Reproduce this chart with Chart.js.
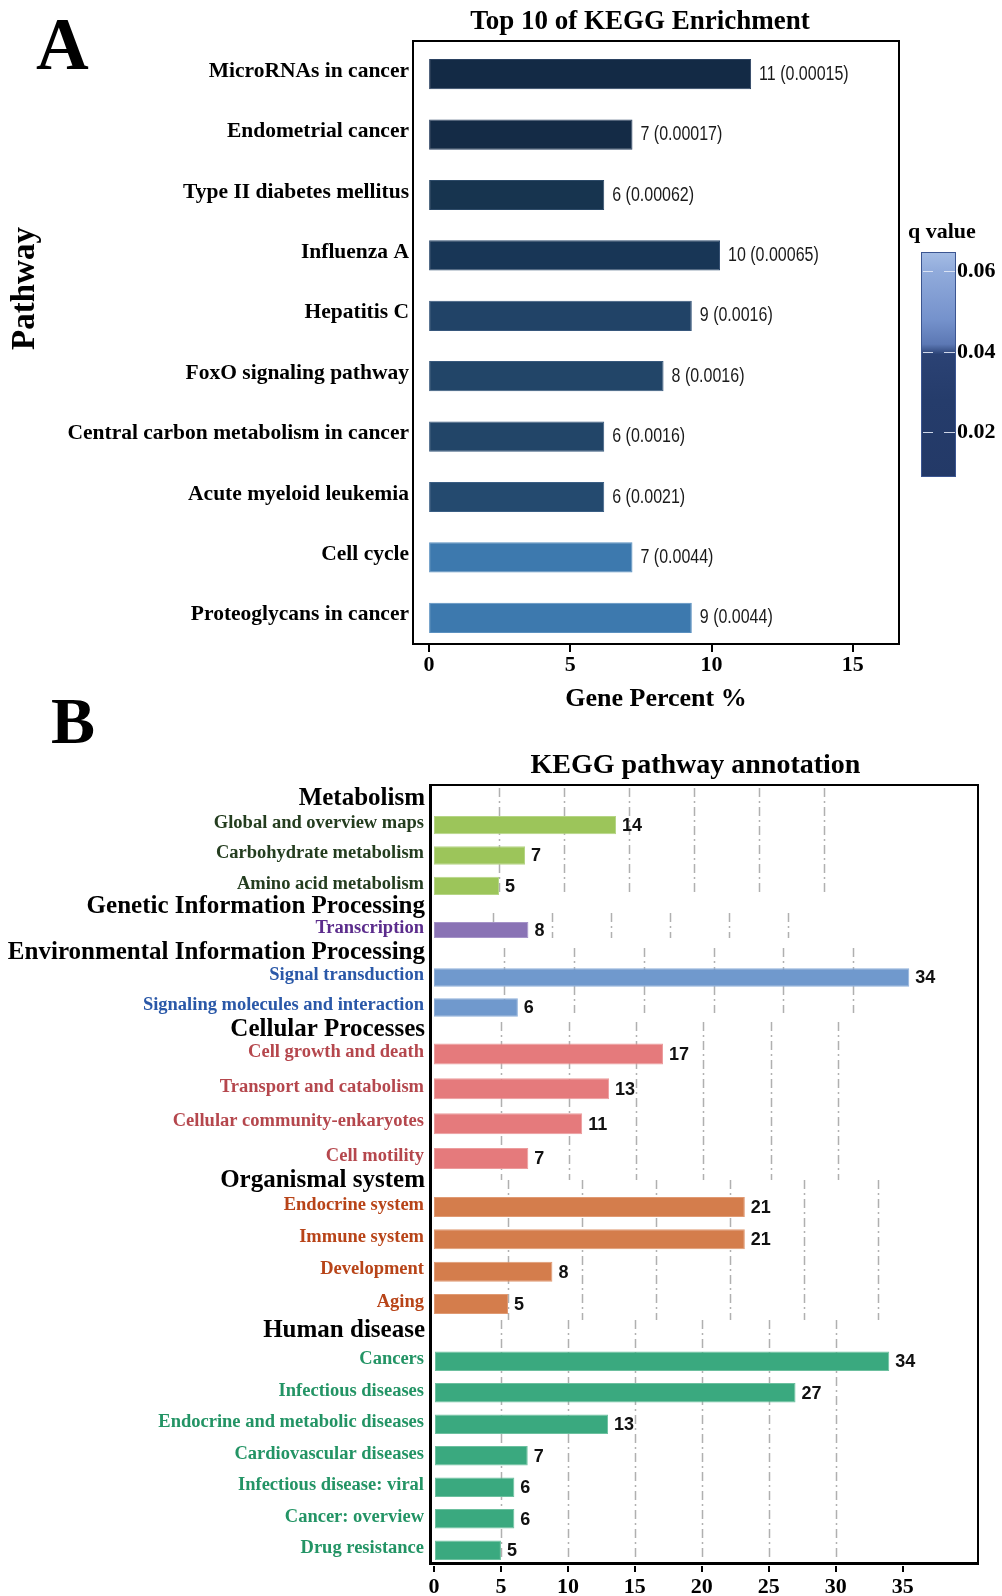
<!DOCTYPE html>
<html>
<head>
<meta charset="utf-8">
<title>KEGG enrichment and KEGG pathway annotation</title>
<script src="https://cdn.jsdelivr.net/npm/chart.js@4.4.1/dist/chart.umd.min.js"></script>
<style>
html,body{margin:0;padding:0;background:#fff;}
#page{position:relative;width:1002px;height:1596px;overflow:hidden;background:#fff;}
#page canvas{position:absolute;left:0;top:0;}
.frame{position:absolute;box-sizing:border-box;border:2px solid #000;pointer-events:none;}
</style>
</head>
<body>
<div id="page">
  <canvas id="chartA" width="1002" height="1596"></canvas>
  <canvas id="chartB0" width="1002" height="1596"></canvas>
  <canvas id="chartB1" width="1002" height="1596"></canvas>
  <canvas id="chartB2" width="1002" height="1596"></canvas>
  <canvas id="chartB3" width="1002" height="1596"></canvas>
  <canvas id="chartB4" width="1002" height="1596"></canvas>
  <canvas id="chartB5" width="1002" height="1596"></canvas>
  <div class="frame" style="left:412px;top:40px;width:488px;height:605px;"></div>
  <div class="frame" style="left:429px;top:784px;width:550px;height:781px;border-left-width:3px;border-bottom-width:3px;"></div>
</div>
<script>
// ================= DATA =================
// Panel A: Top 10 of KEGG Enrichment
const pathwayLabels = [
  'MicroRNAs in cancer', 'Endometrial cancer', 'Type II diabetes mellitus', 'Influenza A',
  'Hepatitis C', 'FoxO signaling pathway', 'Central carbon metabolism in cancer',
  'Acute myeloid leukemia', 'Cell cycle', 'Proteoglycans in cancer'
];
const genePercent = [11.4, 7.2, 6.2, 10.3, 9.3, 8.3, 6.2, 6.2, 7.2, 9.3];
const geneCounts = [11, 7, 6, 10, 9, 8, 6, 6, 7, 9];
const qValueText = ['0.00015', '0.00017', '0.00062', '0.00065', '0.0016', '0.0016', '0.0016', '0.0021', '0.0044', '0.0044'];
const percentTicks = [0, 5, 10, 15];
const qLegendTicks = [0.02, 0.04, 0.06];
const qLegendRange = [0.0089, 0.0647];

// Panel B: KEGG pathway annotation
const groupNames = ['Metabolism', 'Genetic Information Processing', 'Environmental Information Processing',
  'Cellular Processes', 'Organismal system', 'Human disease'];
const metabolismLabels = ['Global and overview maps', 'Carbohydrate metabolism', 'Amino acid metabolism'];
const metabolismCounts = [14, 7, 5];
const geneticLabels = ['Transcription'];
const geneticCounts = [8];
const environmentalLabels = ['Signal transduction', 'Signaling molecules and interaction'];
const environmentalCounts = [34, 6];
const cellularLabels = ['Cell growth and death', 'Transport and catabolism', 'Cellular community-enkaryotes', 'Cell motility'];
const cellularCounts = [17, 13, 11, 7];
const organismalLabels = ['Endocrine system', 'Immune system', 'Development', 'Aging'];
const organismalCounts = [21, 21, 8, 5];
const humanLabels = ['Cancers', 'Infectious diseases', 'Endocrine and metabolic diseases', 'Cardiovascular diseases',
  'Infectious disease: viral', 'Cancer: overview', 'Drug resistance'];
const humanCounts = [34, 27, 13, 7, 6, 6, 5];
const annotationTicks = [0, 5, 10, 15, 20, 25, 30, 35];
const annotationGrid = [5, 10, 15, 20, 25, 30];

// ================= STYLE / LAYOUT =================
const SERIF = '"Liberation Serif", "Times New Roman", serif';
const SANS = '"Liberation Sans", Arial, sans-serif';
const PAGE_W = 1002, PAGE_H = 1596;
const A_FRAME_BOTTOM = 644;
const barColorsA = ['#132a45', '#142b46', '#17344f', '#183656', '#214367', '#224568', '#224568', '#244a6f', '#3d79ae', '#3d79ae'];
const barBordersA = ['#2a4160', '#2a4160', '#2d4a68', '#2d4b6d', '#37577c', '#38597d', '#38597d', '#3a5e84', '#5a90c0', '#5a90c0'];

const groupLabels = [metabolismLabels, geneticLabels, environmentalLabels, cellularLabels, organismalLabels, humanLabels];
const groupCounts = [metabolismCounts, geneticCounts, environmentalCounts, cellularCounts, organismalCounts, humanCounts];
const B_LEFT = 434, B_RIGHT = 977.5;
const groupLayout = [
  {top: 809.8,  bottom: 901.2,  header: 804.6,  gridTop: 788,  gridBottom: 895,  max: 41.8,  bar: 0.60,  color: '#9cc55a', border: '#b5d585', text: '#243d1f'},
  {top: 917,    bottom: 943,    header: 913,    gridTop: 913,  gridBottom: 938,  max: 46.06, bar: 0.615, color: '#8a73b5', border: '#a593c8', text: '#5b2c8c'},
  {top: 962.5,  bottom: 1022.5, header: 959,    gridTop: 948,  gridBottom: 1013, max: 38.88, bar: 0.61,  color: '#7099cd', border: '#8fb0da', text: '#2a58a8'},
  {top: 1036.6, bottom: 1175.9, header: 1036,   gridTop: 1022, gridBottom: 1180, max: 40.35, bar: 0.603, color: '#e57a7c', border: '#ec9c9d', text: '#b5474d'},
  {top: 1190.8, bottom: 1320.2, header: 1186.7, gridTop: 1180, gridBottom: 1320, max: 36.72, bar: 0.62,  color: '#d47d4c', border: '#e09a73', text: '#b84418'},
  {top: 1345.5, bottom: 1566,   header: 1337.3, gridTop: 1320, gridBottom: 1560, max: 40.59, bar: 0.62,  color: '#3aa97f', border: '#6cc09f', text: '#239465', axis: true}
];

// ================= PANEL A =================
const panelAPlugin = {
  id: 'panelA',
  afterDatasetsDraw(chart) {
    const ctx = chart.ctx;
    const meta = chart.getDatasetMeta(0);
    ctx.save();
    ctx.fillStyle = '#1a1a1a';
    ctx.font = '20px ' + SANS;
    ctx.textBaseline = 'middle';
    ctx.textAlign = 'left';
    meta.data.forEach((bar, i) => {
      ctx.save();
      ctx.translate(bar.x + 8, bar.y);
      ctx.scale(0.8, 1);
      ctx.fillText(geneCounts[i] + ' (' + qValueText[i] + ')', 0, 0);
      ctx.restore();
    });
    ctx.restore();
  },
  afterDraw(chart) {
    const ctx = chart.ctx;
    ctx.save();
    // x-axis tick marks hanging below the panel frame
    const xs = chart.scales.x;
    ctx.strokeStyle = '#000';
    ctx.lineWidth = 2;
    percentTicks.forEach(v => {
      const x = Math.round(xs.getPixelForValue(v));
      ctx.beginPath();
      ctx.moveTo(x, A_FRAME_BOTTOM);
      ctx.lineTo(x, A_FRAME_BOTTOM + 8);
      ctx.stroke();
    });

    ctx.fillStyle = '#000';
    ctx.textBaseline = 'alphabetic';
    ctx.textAlign = 'left';
    ctx.font = 'bold 73px ' + SERIF;
    ctx.fillText('A', 36, 69);
    ctx.font = 'bold 66px ' + SERIF;
    ctx.fillText('B', 51, 743);
    ctx.textAlign = 'center';
    ctx.font = 'bold 27px ' + SERIF;
    ctx.fillText('Top 10 of KEGG Enrichment', 640, 29);
    ctx.font = 'bold 26px ' + SERIF;
    ctx.fillText('Gene Percent %', 656, 706);
    ctx.save();
    ctx.translate(34, 288.5);
    ctx.rotate(-Math.PI / 2);
    ctx.font = 'bold 33px ' + SERIF;
    ctx.fillText('Pathway', 0, 0);
    ctx.restore();

    // colour bar legend (q value)
    const cb = {x: 921, y: 252, w: 35, h: 225};
    const g = ctx.createLinearGradient(0, cb.y, 0, cb.y + cb.h);
    g.addColorStop(0, '#a5bde5');
    g.addColorStop(0.084, '#91abdb');
    g.addColorStop(0.30, '#7592cc');
    g.addColorStop(0.41, '#5c78b4');
    g.addColorStop(0.455, '#2b4274');
    g.addColorStop(0.66, '#253c6b');
    g.addColorStop(1, '#233967');
    ctx.fillStyle = g;
    ctx.fillRect(cb.x, cb.y, cb.w, cb.h);
    ctx.strokeStyle = '#3b5591';
    ctx.lineWidth = 1;
    ctx.strokeRect(cb.x + 0.5, cb.y + 0.5, cb.w - 1, cb.h - 1);
    const qToY = q => cb.y + cb.h - (q - qLegendRange[0]) / (qLegendRange[1] - qLegendRange[0]) * cb.h;
    ctx.font = 'bold 22px ' + SERIF;
    ctx.textAlign = 'left';
    ctx.textBaseline = 'middle';
    qLegendTicks.forEach(q => {
      const y = Math.round(qToY(q)) + 0.5;
      ctx.strokeStyle = 'rgba(225,232,246,0.9)';
      ctx.beginPath();
      ctx.moveTo(cb.x + 2, y); ctx.lineTo(cb.x + 12, y);
      ctx.moveTo(cb.x + cb.w - 12, y); ctx.lineTo(cb.x + cb.w - 1, y);
      ctx.stroke();
      ctx.fillStyle = '#000';
      ctx.fillText(q.toFixed(2), 957, y);
    });
    ctx.textBaseline = 'alphabetic';
    ctx.fillText('q value', 908, 238);
    ctx.restore();
  }
};

new Chart(document.getElementById('chartA'), {
  type: 'bar',
  data: {
    labels: pathwayLabels,
    datasets: [{
      data: genePercent,
      backgroundColor: barColorsA,
      borderColor: barBordersA,
      borderWidth: 1,
      borderSkipped: false,
      barPercentage: 0.5,
      categoryPercentage: 1
    }]
  },
  options: {
    indexAxis: 'y',
    responsive: false,
    animation: false,
    devicePixelRatio: 1,
    layout: {padding: {left: 0, top: 44, right: PAGE_W - 898, bottom: 0}},
    plugins: {legend: {display: false}, tooltip: {enabled: false}, title: {display: false}},
    scales: {
      y: {
        type: 'category',
        grid: {display: false, drawTicks: false},
        border: {display: false},
        ticks: {autoSkip: false, color: '#000', padding: 4, labelOffset: -3,
          font: {family: SERIF, weight: 'bold', size: 21.5}},
        afterFit(s) { s.width = 413; }
      },
      x: {
        type: 'linear', min: -0.57, max: 16.6,
        border: {display: false},
        grid: {display: false, drawTicks: false},
        ticks: {stepSize: 5, includeBounds: false, color: '#000', padding: 4,
          font: {family: SERIF, weight: 'bold', size: 22}},
        afterBuildTicks(s) { s.ticks = percentTicks.map(v => ({value: v})); },
        afterFit(s) { s.height = PAGE_H - 648; }
      }
    }
  },
  plugins: [panelAPlugin]
});

// ================= PANEL B =================
function groupPlugin(gi) {
  return {
    id: 'group' + gi,
    beforeDatasetsDraw(chart) {
      const L = groupLayout[gi];
      const ctx = chart.ctx;
      const xs = chart.scales.x;
      ctx.save();
      ctx.strokeStyle = '#b0b0b0';
      ctx.lineWidth = 1.5;
      ctx.setLineDash([9, 4, 2, 4]);
      annotationGrid.forEach(v => {
        const x = Math.round(xs.getPixelForValue(v)) + 0.5;
        ctx.beginPath();
        ctx.moveTo(x, L.gridTop);
        ctx.lineTo(x, L.gridBottom);
        ctx.stroke();
      });
      ctx.restore();
    },
    afterDatasetsDraw(chart) {
      const ctx = chart.ctx;
      const meta = chart.getDatasetMeta(0);
      const vals = groupCounts[gi];
      ctx.save();
      ctx.fillStyle = '#111';
      ctx.font = 'bold 18px ' + SANS;
      ctx.textBaseline = 'middle';
      ctx.textAlign = 'left';
      meta.data.forEach((bar, i) => ctx.fillText(String(vals[i]), bar.x + 6, bar.y + 1));
      ctx.restore();
    },
    afterDraw(chart) {
      const L = groupLayout[gi];
      const ctx = chart.ctx;
      ctx.save();
      ctx.fillStyle = '#000';
      ctx.textAlign = 'right';
      ctx.textBaseline = 'alphabetic';
      ctx.font = 'bold 25px ' + SERIF;
      ctx.fillText(groupNames[gi], chart.chartArea.left - 9, L.header);
      if (gi === 0) {
        ctx.textAlign = 'center';
        ctx.font = 'bold 28px ' + SERIF;
        ctx.fillText('KEGG pathway annotation', 695.5, 773);
      }
      ctx.restore();
    }
  };
}

groupLayout.forEach((L, gi) => {
  const isAxis = !!L.axis;
  const xScale = {
    type: 'linear', min: 0, max: L.max,
    display: isAxis,
    border: {display: false},
    grid: {display: true, drawOnChartArea: false, drawTicks: true, tickLength: 6, color: '#000', lineWidth: 2},
    ticks: {stepSize: 5, color: '#000', padding: 2, font: {family: SERIF, weight: 'bold', size: 22}}
  };
  if (isAxis) {
    xScale.afterBuildTicks = s => { s.ticks = annotationTicks.map(v => ({value: v})); };
    xScale.afterFit = s => { s.height = PAGE_H - L.bottom; };
  }
  new Chart(document.getElementById('chartB' + gi), {
    type: 'bar',
    data: {
      labels: groupLabels[gi],
      datasets: [{
        data: groupCounts[gi],
        backgroundColor: L.color,
        borderColor: L.border,
        borderWidth: 1,
        borderSkipped: false,
        barPercentage: L.bar,
        categoryPercentage: 1
      }]
    },
    options: {
      indexAxis: 'y',
      responsive: false,
      animation: false,
      devicePixelRatio: 1,
      layout: {padding: {left: 0, right: PAGE_W - B_RIGHT, top: L.top, bottom: isAxis ? 0 : PAGE_H - L.bottom}},
      plugins: {legend: {display: false}, tooltip: {enabled: false}},
      scales: {
        y: {
          type: 'category',
          grid: {display: false, drawTicks: false},
          border: {display: false},
          ticks: {autoSkip: false, color: L.text, padding: 10, labelOffset: -2,
            font: {family: SERIF, weight: 'bold', size: 18.5}},
          afterFit(s) { s.width = B_LEFT; }
        },
        x: xScale
      }
    },
    plugins: [groupPlugin(gi)]
  });
});
</script>
</body>
</html>
